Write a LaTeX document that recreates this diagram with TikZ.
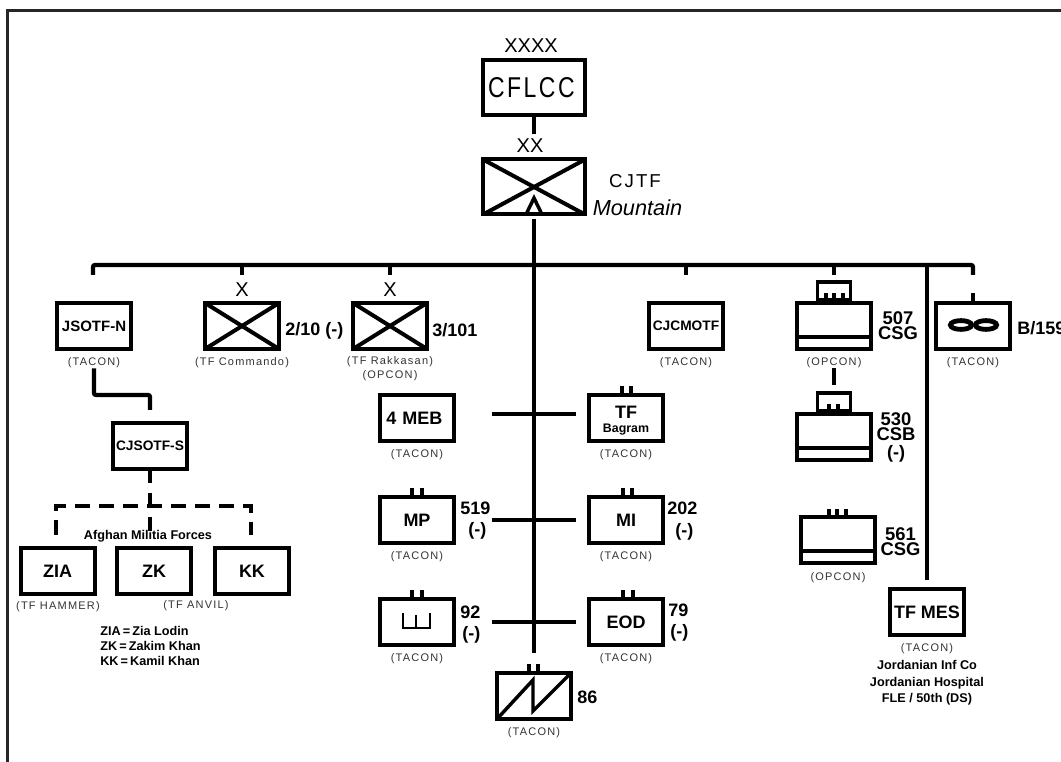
\documentclass[tikz,border=0pt]{standalone}
\usepackage{graphicx}
\usepackage{fontspec}
\setmainfont{Liberation Sans}
\newfontfamily\spacedfont[LetterSpace=11]{Liberation Sans}
\usetikzlibrary{calc,positioning}

\begin{document}
\begin{tikzpicture}[
  x=0.75pt,y=-0.75pt,
  frame/.style={draw=black!85,line width=2.25pt},
  line/.style={draw=black,line width=3.2pt},
  tickmark/.style={draw=black,line width=2.6pt},
  unit/.style={draw=black,line width=3pt,minimum width=55.5pt,minimum height=34.5pt,
    inner sep=0pt,align=center,font=\bfseries\fontsize{13.5}{16}\selectfont},
  bigunit/.style={unit,minimum width=76.5pt,minimum height=41.25pt},
  crossed/.style={path picture={
    \draw[line width=3pt] (path picture bounding box.north west)--(path picture bounding box.south east);
    \draw[line width=3pt] (path picture bounding box.south west)--(path picture bounding box.north east);}},
  support/.style={unit,path picture={
    \draw[line width=3pt] ([yshift=9pt]path picture bounding box.south west)--([yshift=9pt]path picture bounding box.south east);}},
  capbox/.style={draw=black,line width=2.4pt,minimum width=25pt,minimum height=13pt,inner sep=0pt,anchor=south},
  small/.style={unit,font=\bfseries\fontsize{10.3}{12}\selectfont},
  tag/.style={inner sep=0pt,text=black!80,align=center,font=\spacedfont\fontsize{8.25}{10.5}\selectfont},
  echelon/.style={inner sep=0pt,font=\fontsize{15}{15}\selectfont},
  numlabel/.style={inner sep=0pt,anchor=west,font=\bfseries\fontsize{13.5}{14}\selectfont},
  stacked/.style={inner sep=0pt,align=center,font=\bfseries\fontsize{13.8}{11.25}\selectfont},
  note/.style={inner sep=0pt,font=\bfseries\fontsize{9.5}{11.25}\selectfont}
]
  \useasboundingbox (0,0) rectangle (1061,762);
  \clip (0,0) rectangle (1061,762);
  \draw[frame] (1061,10.5) -| (7.5,762);

  % top of the chart
  \node[bigunit] (cflcc) at (534,87.5) {\hspace*{-4pt}\scalebox{.8}[1]{\spacedfont\mdseries\fontsize{21.5}{22}\selectfont CFLCC}};
  \node[bigunit,crossed] (cjtf) at (534,187) {};
  \node[echelon] (xxxx) at (531,46) {XXXX};
  \node[echelon] (xx) at (530,146) {XX};
  \node[inner sep=0pt,font=\spacedfont\fontsize{14}{14}\selectfont] (cjtfname) at (635,181) {CJTF};
  \node[inner sep=0pt,font=\itshape\fontsize{16.3}{16}\selectfont] (mountain) at (637.5,208) {Mountain};

  % first row
  \node[unit,font=\bfseries\fontsize{11.25}{12}\selectfont] (jsotfn) at (94,326) {JSOTF-N};
  \node[unit,crossed] (tfcmd) at (242,326) {};
  \node[unit,crossed] (rakkasan) at (390,326) {};
  \node[small] (cjcmotf) at (686,326) {CJCMOTF};
  \node[support] (csg507) at (834,326) {};
  \node[unit] (avn) at (973,326) {};
  \node[capbox] (cap507) at (csg507.north) {};

  \node[tag,below=5pt of jsotfn] (jsotfntag) {(TACON)};
  \node[tag,below=5pt of tfcmd] (tfcmdtag) {(TF Commando)};
  \node[tag,below=3.75pt of rakkasan] (rakkasantag) {(TF Rakkasan)\\(OPCON)};
  \node[tag,below=5pt of cjcmotf] (cjcmotftag) {(TACON)};
  \node[tag,below=5pt of csg507] (csg507tag) {(OPCON)};
  \node[tag,below=5pt of avn] (avntag) {(TACON)};
  \node[echelon,above=3pt of tfcmd] (tfcmdx) {X};
  \node[echelon,above=3pt of rakkasan] (rakkasanx) {X};
  \node[numlabel] (n210) at (285,331) {2/10 (-)};
  \node[numlabel] (n3101) at (432,330) {3/101};
  \node[stacked] (n507) at (898,325.5) {507\\CSG};
  \node[numlabel] (nb159) at (1017,328) {B/159};

  % left column
  \node[small] (cjsotfs) at (150,446) {CJSOTF-S};
  \node[unit] (zia) at (57.5,571) {ZIA};
  \node[unit] (zk) at (154,571) {ZK};
  \node[unit] (kk) at (252,571) {KK};
  \node[note] (militia) at (148,536) {Afghan Militia Forces};
  \node[tag] (hammer) at (58,607) {(TF HAMMER)};
  \node[tag] (anvil) at (196,606) {(TF ANVIL)};
  \node[note,anchor=north west,align=left] (key) at (100,626) {ZIA\,=\,Zia Lodin\\ZK\,=\,Zakim Khan\\KK\,=\,Kamil Khan};

  % centre column
  \node[unit] (meb) at (417,418) {\hspace*{-4pt}4\,\,MEB};
  \node[unit] (bagram) at (626,418) {};
  \node[inner sep=0pt,font=\bfseries\fontsize{13.5}{14}\selectfont] (bagramtf) at (626,412) {TF};
  \node[inner sep=0pt,font=\bfseries\fontsize{9.3}{11}\selectfont] (bagramname) at (626,430) {Bagram};
  \node[unit] (mp) at (417,520) {MP};
  \node[unit] (mi) at (626,520) {MI};
  \node[unit] (eng) at (417,622) {};
  \node[unit] (eod) at (626,622) {\raisebox{-2pt}{EOD}};
  \node[unit] (sig) at (534,696) {};
  \node[tag,below=5pt of meb] (mebtag) {(TACON)};
  \node[tag,below=5pt of bagram] (bagramtag) {(TACON)};
  \node[tag,below=5pt of mp] (mptag) {(TACON)};
  \node[tag,below=5pt of mi] (mitag) {(TACON)};
  \node[tag,below=5pt of eng] (engtag) {(TACON)};
  \node[tag,below=5pt of eod] (eodtag) {(TACON)};
  \node[tag,below=5pt of sig] (sigtag) {(TACON)};
  \node[numlabel] (n519) at (460,508) {519};
  \node[numlabel] (n519b) at (468,531) {(-)};
  \node[numlabel] (n92) at (460,612) {92};
  \node[numlabel] (n92b) at (462,635) {(-)};
  \node[numlabel] (n202) at (667,508) {202};
  \node[numlabel] (n202b) at (675,532) {(-)};
  \node[numlabel] (n79) at (668,610) {79};
  \node[numlabel] (n79b) at (670,633) {(-)};
  \node[numlabel] (n86) at (577,697) {86};

  % right column
  \node[support] (csb530) at (834,437) {};
  \node[capbox] (cap530) at (csb530.north) {};
  \node[stacked] (n530) at (896,426.5) {530\\CSB};
  \node[numlabel,anchor=center] (n530b) at (896,454) {(-)};
  \node[support] (csg561) at (838,540.5) {};
  \node[tag,below=5pt of csg561] (csg561tag) {(OPCON)};
  \node[stacked] (n561) at (900.5,541.5) {561\\CSG};
  \node[unit] (tfmes) at (927,612) {TF MES};
  \node[tag,below=4.5pt of tfmes] (tfmestag) {(TACON)};
  \node[note,align=center,below=5pt of tfmestag,font=\bfseries\fontsize{9.5}{12.4}\selectfont] (attached) {Jordanian Inf Co\\Jordanian Hospital\\FLE / 50th (DS)};

  \coordinate (bus) at (534,265);
  \coordinate (busl) at (93,275);
  \coordinate (busr) at (973,275);
  \coordinate (jog) at (150,395);
  \coordinate (militiaw) at (56,535);
  \coordinate (militiatop) at (150,506);
  \coordinate (militiae) at (251,535);
  \coordinate (militiastem) at (150,531);
  \coordinate (rowaw) at (492,414);
  \coordinate (rowae) at (576,414);
  \coordinate (rowbw) at (492,520);
  \coordinate (rowbe) at (576,520);
  \coordinate (rowcw) at (492,622);
  \coordinate (rowce) at (576,622);

  \draw[line] (cflcc.south)--++(0,17);
  \draw[line,shorten <=2.25pt,shorten >=13.5pt] (cjtf.south)--(sig.north);
  \draw[line,rounded corners=1.5pt] (busl) |- (bus) -| (busr);
  \foreach \b in {tfcmd,rakkasan,cjcmotf,csg507}
    \draw[line] (bus -| \b)--++(0,10);
  \draw[line,shorten >=5.25pt] (bus -| tfmes)--(tfmes.north);
  \draw[line] (avn.north)--++(0,-8);
  \draw[line,rounded corners=1.5pt,shorten >=8.25pt] (jsotfntag.south) |- (jog)--(cjsotfs.north);
  \draw[line,dash pattern=on 9pt off 7.5pt on 9.75pt off 8.25pt on 10.5pt] (cjsotfs.south)--(militiastem);
  \draw[line,dash pattern=on 11.25pt off 6.75pt] (militiaw) |- (militiatop) -| (militiae);
  \draw[line] (rowaw)--(rowae);
  \draw[line] (rowbw)--(rowbe);
  \draw[line] (rowcw)--(rowce);
  \draw[line,shorten >=4.5pt] (csg507tag.south)--(cap530.north);

  % branch symbols
  \draw[line width=2.6pt] ($(cjtf.south)+(-8,-2)$)--($(cjtf.center)+(0,11)$)--($(cjtf.south)+(8,-2)$);
  \draw[line width=2.6pt] ($(sig.south west)+(2,-2)$)--($(sig.center)+(-1,-16)$)--($(sig.center)+(-1,15)$)--($(sig.north east)+(-2,2)$);
  \draw[line width=2.2pt] ($(eng.center)+(-14,-9)$)--($(eng.center)+(-14,6)$)--($(eng.center)+(13,6)$)--($(eng.center)+(13,-9)$);
  \draw[line width=2.2pt] ($(eng.center)+(-1,6)$)--($(eng.center)+(-1,-7)$);
  \draw[line width=3.6pt] ($(avn.center)+(-12,-1)$) ellipse (8pt and 3.3pt);
  \draw[line width=3.6pt] ($(avn.center)+(13,-1)$) ellipse (8pt and 3.3pt);

  % echelon ticks
  \foreach \b/\l/\r in {bagram/-4/5,mp/-5/5,mi/-3/6,eng/-5/5,eod/-3/7,sig/-5/4}{
    \draw[tickmark] ([xshift=\l*0.75pt]\b.north)--++(0,-7);
    \draw[tickmark] ([xshift=\r*0.75pt]\b.north)--++(0,-7);
  }
  \foreach \dx in {-8,0,9}
    \draw[tickmark] ([xshift=\dx*0.75pt]cap507.south)--++(0,-8);
  \foreach \dx in {-5,4}
    \draw[tickmark] ([xshift=\dx*0.75pt]cap530.south)--++(0,-8);
  \foreach \dx in {-9,-1,8}
    \draw[tickmark] ([xshift=\dx*0.75pt]csg561.north)--++(0,-6);
\end{tikzpicture}
\end{document}
